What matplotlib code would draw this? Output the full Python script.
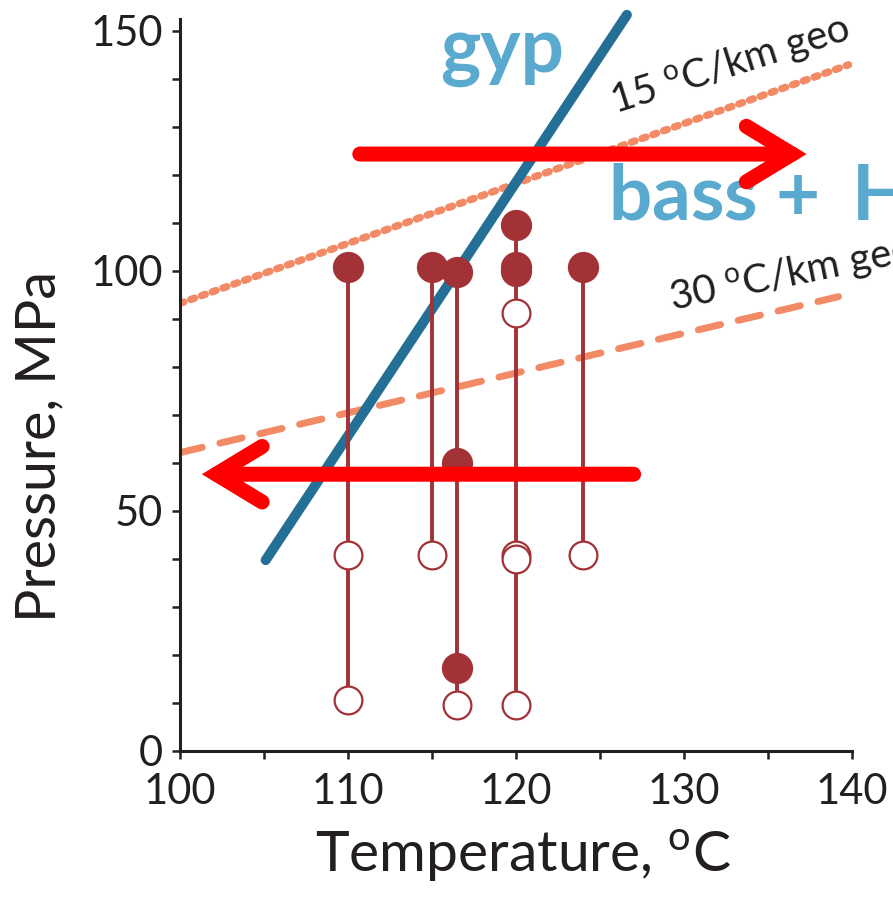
import matplotlib
matplotlib.use('Agg')
import matplotlib.pyplot as plt
from matplotlib.ticker import MultipleLocator

plt.rcParams['font.family'] = ['Lato', 'DejaVu Sans']
plt.rcParams['mathtext.fontset'] = 'custom'
plt.rcParams['mathtext.rm'] = 'Lato'
plt.rcParams['mathtext.bf'] = 'Lato:bold'

##### data #####
# vertical stems (one per temperature column)
stem_T = [110, 115, 116.5, 120, 124]
stem_top = [100.8, 100.8, 99.8, 109.5, 100.7]
stem_bottom = [10.6, 40.8, 9.5, 9.5, 40.8]

# filled circles
filled_T = [110, 115, 116.5, 116.5, 116.5, 120, 120, 120, 124]
filled_P = [100.8, 100.8, 99.8, 59.9, 17.3, 109.5, 100.7, 99.9, 100.7]

# open circles
open_T = [110, 110, 115, 116.5, 120, 120, 120, 120, 124]
open_P = [40.8, 10.6, 40.8, 9.5, 91.1, 40.8, 39.9, 9.5, 40.8]

# gypsum -> bassanite + H2O reaction
gyp_T = [105.1, 126.6]
gyp_P = [39.7, 153.3]

# geotherms
geo15_T = [100, 139.8]
geo15_P = [93.2, 142.9]
geo30_T = [100, 139.2]
geo30_P = [62.1, 94.6]

# red arrows (start, tip)
arrow_right = [(110.7, 124.3), (137.3, 124.3)]
arrow_left = [(127.0, 57.6), (101.3, 57.6)]

red = '#a23236'
dark = '#231f20'
salmon = '#f28a66'
lightblue = '#5aaad0'

fig = plt.figure(figsize=(8.93, 8.98), dpi=100)
ax = fig.add_axes([180/893, 147.3/898, 672/893, 732/898])

# geotherms
ax.plot(geo15_T, geo15_P, color=salmon, lw=5.3, dashes=(0.55, 1.0),
        dash_capstyle='round', zorder=2)
ax.plot(geo30_T, geo30_P, color=salmon, lw=5, dashes=(3.3, 2.6),
        dash_capstyle='round', zorder=2)

# reaction line
ax.plot(gyp_T, gyp_P, color='#236f96', lw=7.2, solid_capstyle='round',
        clip_on=False, zorder=3)

# stems and points
for T, top, bot in zip(stem_T, stem_top, stem_bottom):
    ax.plot([T, T], [bot, top], color=red, lw=2.8, zorder=4)
ax.plot(open_T, open_P, 'o', ms=20, mfc='white', mec=red, mew=1.6,
        ls='none', zorder=5)
ax.plot(filled_T, filled_P, 'o', ms=22.5, mfc=red, mec='none',
        ls='none', zorder=6)

# red arrows
for start, tip in [arrow_right, arrow_left]:
    ax.annotate('', xy=tip, xytext=start,
                arrowprops=dict(arrowstyle='->,head_length=33,head_width=20',
                                mutation_scale=1, color='#ff0000', lw=10.8,
                                shrinkA=0, shrinkB=0, capstyle='round',
                                joinstyle='miter'),
                annotation_clip=False, zorder=10)

# labels on the plot
ax.text(115.48, 141.4, 'gyp', color=lightblue, fontsize=55,
        fontweight='bold', ha='left', va='baseline', clip_on=False)
ax.text(125.48, 110.5, r'bass + $\,$H$_\mathbf{2}$', color=lightblue,
        fontsize=55, fontweight='bold', ha='left', va='baseline',
        clip_on=False)
ax.text(125.9, 132.6, r'15 $^{\mathrm{o}}$C/km geo', color=dark, fontsize=29,
        rotation=17.5, rotation_mode='anchor', ha='left', va='baseline')
ax.text(129.3, 91.6, r'30 $^{\mathrm{o}}$C/km geo', color=dark, fontsize=29,
        rotation=11.5, rotation_mode='anchor', ha='left', va='baseline',
        clip_on=False)

# axes styling
ax.set_xlim(100, 140)
ax.set_ylim(0, 152.5)
for s in ['top', 'right']:
    ax.spines[s].set_visible(False)
for s in ['left', 'bottom']:
    ax.spines[s].set_linewidth(2.2)
    ax.spines[s].set_color(dark)
ax.xaxis.set_major_locator(MultipleLocator(10))
ax.xaxis.set_minor_locator(MultipleLocator(5))
ax.yaxis.set_major_locator(MultipleLocator(50))
ax.yaxis.set_minor_locator(MultipleLocator(10))
ax.tick_params(which='both', direction='out', length=6, width=1.8,
               color=dark, labelcolor=dark, labelsize=30)
ax.tick_params(axis='y', pad=6)
ax.tick_params(axis='x', pad=10)

ax.set_xlabel(r'Temperature, $^{\mathrm{o}}$C', fontsize=41, color=dark)
ax.set_ylabel('Pressure, MPa', fontsize=40, color=dark)
ax.xaxis.set_label_coords(0.51, -0.105)
ax.yaxis.set_label_coords(-0.17, 0.415)

fig.savefig('out.png', dpi=100)
